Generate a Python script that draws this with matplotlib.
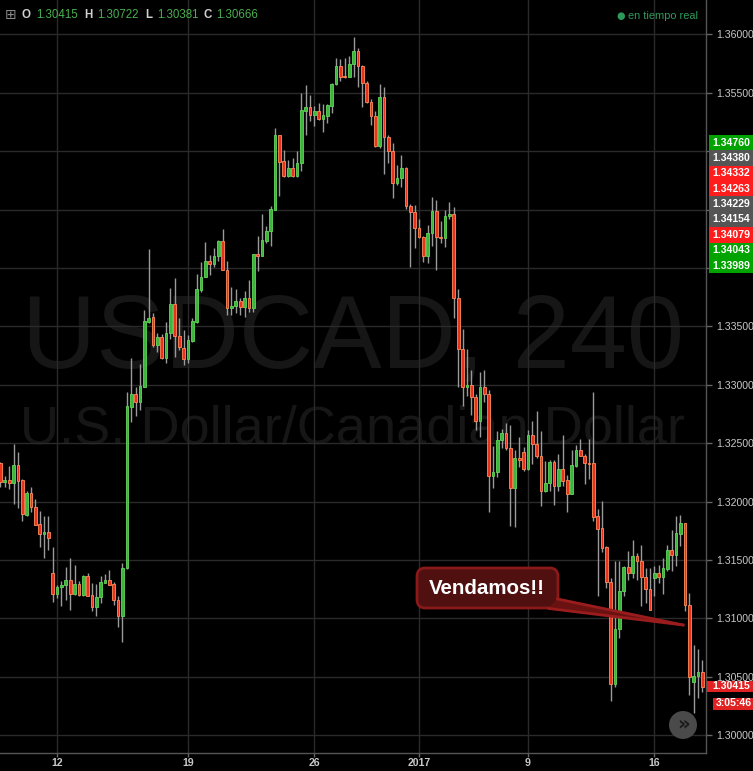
import matplotlib
matplotlib.use('Agg')
import matplotlib.pyplot as plt
from matplotlib.patches import Rectangle, FancyBboxPatch, Polygon, Ellipse
from matplotlib.lines import Line2D
import numpy as np

plt.rcParams['font.family'] = ['Liberation Sans', 'DejaVu Sans']

# ---------------- data (USDCAD, 4H candles) ----------------
opens = [1.32328, 1.32171, 1.32185, 1.32162, 1.32313, 1.32185, 1.31886, 1.32071, 1.31951, 1.31806,
         1.31721, 1.31738, 1.31387, 1.31208, 1.31268, 1.31282, 1.31330, 1.31208, 1.31296, 1.31202,
         1.31364, 1.31202, 1.31094, 1.31182, 1.31307, 1.31330, 1.31296, 1.31159, 1.31025, 1.31430,
         1.32814, 1.32920, 1.32849, 1.32985, 1.33541, 1.33578, 1.33342, 1.33407, 1.33233, 1.33441,
         1.33692, 1.33421, 1.33316, 1.33222, 1.33378, 1.33541, 1.33812, 1.33922, 1.34062, 1.34033,
         1.34104, 1.34233, 1.33985, 1.33657, 1.33671, 1.33720, 1.33663, 1.33743, 1.33657, 1.34119,
         1.34105, 1.34235, 1.34313, 1.34498, 1.35139, 1.34916, 1.34791, 1.34854, 1.34791, 1.34897,
         1.35347, 1.35376, 1.35310, 1.35344, 1.35276, 1.35304, 1.35387, 1.35572, 1.35729, 1.35644,
         1.35638, 1.35743, 1.35857, 1.35729, 1.35581, 1.35418, 1.35304, 1.35048, 1.35461, 1.35119,
         1.35005, 1.34726, 1.34768, 1.34854, 1.34532, 1.34478, 1.34341, 1.34264, 1.34099, 1.34298,
         1.34489, 1.34264, 1.34253, 1.34441, 1.34464, 1.33743, 1.33307, 1.32982, 1.33002, 1.32896,
         1.32688, 1.32982, 1.32922, 1.32218, 1.32255, 1.32526, 1.32588, 1.32460, 1.32118, 1.32374,
         1.32423, 1.32281, 1.32566, 1.32489, 1.32391, 1.32095, 1.32157, 1.32343, 1.32135, 1.32277,
         1.32186, 1.32066, 1.32308, 1.32442, 1.32394, 1.32334, 1.32328, 1.31878, 1.31773, 1.31610,
         1.31311, 1.30439, 1.30909, 1.31231, 1.31439, 1.31388, 1.31536, 1.31493, 1.31353, 1.31251,
         1.31345, 1.31388, 1.31351, 1.31425, 1.31587, 1.31539, 1.31724, 1.31815, 1.31111, 1.30456,
         1.30504, 1.30541]
highs = [1.32342, 1.32219, 1.32305, 1.32493, 1.32425, 1.32191, 1.32091, 1.32123, 1.32020, 1.31920,
         1.31877, 1.31877, 1.31610, 1.31288, 1.31322, 1.31436, 1.31518, 1.31459, 1.31322, 1.31373,
         1.31387, 1.31302, 1.31296, 1.31364, 1.31381, 1.31416, 1.31316, 1.31193, 1.31478, 1.32937,
         1.33228, 1.32985, 1.33179, 1.33641, 1.34162, 1.33612, 1.33447, 1.33436, 1.33535, 1.33826,
         1.33912, 1.33569, 1.33470, 1.33427, 1.33569, 1.33948, 1.34047, 1.34224, 1.34113, 1.34170,
         1.34241, 1.34333, 1.34062, 1.33837, 1.33820, 1.33743, 1.33800, 1.33894, 1.34122, 1.34270,
         1.34464, 1.34361, 1.34532, 1.35202, 1.35139, 1.35011, 1.34925, 1.34945, 1.35002, 1.35501,
         1.35567, 1.35481, 1.35387, 1.35410, 1.35404, 1.35404, 1.35587, 1.35797, 1.35786, 1.35794,
         1.35814, 1.35980, 1.35880, 1.35738, 1.35601, 1.35447, 1.35344, 1.35575, 1.35547, 1.35139,
         1.35068, 1.34883, 1.34968, 1.34868, 1.34549, 1.34541, 1.34418, 1.34276, 1.34370, 1.34606,
         1.34578, 1.34404, 1.34498, 1.34563, 1.34521, 1.33822, 1.33480, 1.33309, 1.33124, 1.32925,
         1.33107, 1.33124, 1.32959, 1.32474, 1.32608, 1.32625, 1.32674, 1.32660, 1.32440, 1.32554,
         1.32469, 1.32617, 1.32688, 1.32774, 1.32605, 1.32348, 1.32357, 1.32357, 1.32408, 1.32571,
         1.32228, 1.32442, 1.32485, 1.32533, 1.32408, 1.32533, 1.32935, 1.31935, 1.32008, 1.31622,
         1.31345, 1.31488, 1.31493, 1.31451, 1.31573, 1.31673, 1.31559, 1.31630, 1.31431, 1.31431,
         1.31445, 1.31459, 1.31516, 1.31630, 1.31753, 1.31878, 1.31887, 1.31820, 1.31217, 1.30775,
         1.30738, 1.30644]
lows = [1.32128, 1.32128, 1.32105, 1.31980, 1.31949, 1.31838, 1.31878, 1.31914, 1.31798, 1.31615,
        1.31521, 1.31587, 1.31137, 1.31174, 1.31108, 1.31159, 1.31074, 1.31202, 1.31188, 1.31196,
        1.31190, 1.31060, 1.31017, 1.31131, 1.31302, 1.31282, 1.31117, 1.30923, 1.30794, 1.31420,
        1.32678, 1.32735, 1.32786, 1.32985, 1.33532, 1.33322, 1.33285, 1.33219, 1.33185, 1.33390,
        1.33242, 1.33299, 1.33170, 1.33190, 1.33370, 1.33532, 1.33791, 1.33922, 1.33942, 1.34008,
        1.34056, 1.33979, 1.33600, 1.33600, 1.33614, 1.33594, 1.33580, 1.33620, 1.33620, 1.33970,
        1.34099, 1.34213, 1.34184, 1.34498, 1.34612, 1.34783, 1.34783, 1.34783, 1.34783, 1.34834,
        1.35139, 1.35262, 1.35216, 1.35267, 1.35168, 1.35244, 1.35330, 1.35567, 1.35604, 1.35624,
        1.35638, 1.35638, 1.35547, 1.35381, 1.35410, 1.35225, 1.35034, 1.35025, 1.34806, 1.34897,
        1.34598, 1.34712, 1.34692, 1.34504, 1.34005, 1.34170, 1.34256, 1.34050, 1.34042, 1.34184,
        1.33979, 1.34213, 1.34179, 1.34418, 1.33572, 1.32982, 1.32816, 1.32902, 1.32745, 1.32617,
        1.32554, 1.32851, 1.31910, 1.32118, 1.32212, 1.32460, 1.32440, 1.31790, 1.31785, 1.32298,
        1.32261, 1.32269, 1.32318, 1.32375, 1.31964, 1.32078, 1.32092, 1.31972, 1.32092, 1.32135,
        1.31915, 1.32066, 1.32300, 1.32391, 1.32152, 1.32194, 1.31830, 1.31188, 1.31565, 1.31260,
        1.30291, 1.30410, 1.30832, 1.31188, 1.31331, 1.31345, 1.31331, 1.31103, 1.31131, 1.31069,
        1.31188, 1.31302, 1.31206, 1.31402, 1.31402, 1.31445, 1.31624, 1.31060, 1.30348, 1.30188,
        1.30319, 1.30373]
closes = [1.32171, 1.32185, 1.32162, 1.32313, 1.32180, 1.31892, 1.32071, 1.31951, 1.31804, 1.31721,
          1.31738, 1.31686, 1.31208, 1.31268, 1.31288, 1.31330, 1.31208, 1.31296, 1.31202, 1.31364,
          1.31196, 1.31094, 1.31182, 1.31310, 1.31330, 1.31288, 1.31154, 1.31025, 1.31430, 1.32820,
          1.32920, 1.32849, 1.32991, 1.33547, 1.33575, 1.33342, 1.33407, 1.33233, 1.33441, 1.33692,
          1.33421, 1.33327, 1.33222, 1.33384, 1.33546, 1.33817, 1.33922, 1.34062, 1.34033, 1.34104,
          1.34233, 1.33985, 1.33657, 1.33677, 1.33720, 1.33663, 1.33743, 1.33657, 1.34119, 1.34105,
          1.34241, 1.34318, 1.34504, 1.35139, 1.34911, 1.34791, 1.34854, 1.34791, 1.34897, 1.35353,
          1.35376, 1.35310, 1.35344, 1.35276, 1.35310, 1.35396, 1.35575, 1.35729, 1.35638, 1.35635,
          1.35746, 1.35857, 1.35729, 1.35581, 1.35418, 1.35304, 1.35048, 1.35461, 1.35119, 1.35005,
          1.34726, 1.34768, 1.34854, 1.34532, 1.34478, 1.34341, 1.34264, 1.34099, 1.34298, 1.34489,
          1.34264, 1.34253, 1.34447, 1.34464, 1.33743, 1.33307, 1.32982, 1.33002, 1.32896, 1.32688,
          1.32982, 1.32922, 1.32218, 1.32255, 1.32531, 1.32588, 1.32460, 1.32118, 1.32374, 1.32354,
          1.32281, 1.32566, 1.32489, 1.32389, 1.32095, 1.32157, 1.32343, 1.32135, 1.32277, 1.32180,
          1.32066, 1.32314, 1.32442, 1.32394, 1.32328, 1.32323, 1.31872, 1.31767, 1.31607, 1.31308,
          1.30439, 1.30909, 1.31237, 1.31439, 1.31388, 1.31536, 1.31488, 1.31351, 1.31251, 1.31074,
          1.31388, 1.31351, 1.31431, 1.31587, 1.31539, 1.31730, 1.31815, 1.31111, 1.30500, 1.30510,
          1.30541, 1.30415]

date_tick_idx = [13, 43, 72, 96, 121, 150]
date_tick_labels = ['12', '19', '26', '2017', '9', '16']
price_ticks = [1.300, 1.305, 1.310, 1.315, 1.320, 1.325, 1.330,
               1.335, 1.340, 1.345, 1.350, 1.355, 1.360]
# price levels whose axis labels are covered by the stacked boxes
hidden_ticks = [1.340, 1.345, 1.350]

side_labels = ['1.34760', '1.34380', '1.34332', '1.34263', '1.34229',
               '1.34154', '1.34079', '1.34043', '1.33989']
side_colors = ['#00a300', '#555555', '#ff1c1c', '#ff1c1c', '#555555',
               '#555555', '#ff1c1c', '#00a300', '#00a300']

header_values = ['1.30415', '1.30722', '1.30381', '1.30666']
header_keys = ['O', 'H', 'L', 'C']
last_price_label = '1.30415'
countdown_label = '3:05:46'

# ---------------- figure ----------------
W, H = 753, 771
def fx(x):
    return x / W
def fy(y):
    return 1 - y / H

fig = plt.figure(figsize=(W / 100, H / 100), dpi=100, facecolor='black')
ax = fig.add_axes([0, fy(753), fx(706), 753 / H])
ax.set_facecolor('black')

n = len(opens)
xs = np.arange(n)
o = np.array(opens); h = np.array(highs); l = np.array(lows); c = np.array(closes)
up = c > o

ax.set_xlim(-0.1, 161.85)
ax.set_ylim(1.29848, 1.36294)

# watermark
ax.text(0.5, 0.547, 'USDCAD, 240', transform=ax.transAxes, ha='center', va='center',
        fontsize=74, color='#161616', zorder=0.2)
ax.text(0.5, 0.429, 'U.S. Dollar/Canadian Dollar', transform=ax.transAxes, ha='center',
        va='center', fontsize=39, color='#161616', zorder=0.2)

# grid
ax.set_yticks(price_ticks)
ax.set_yticklabels(['' if any(abs(p - q) < 1e-9 for q in hidden_ticks) else f'{p:.5f}'
                    for p in price_ticks])
ax.set_xticks(date_tick_idx)
ax.set_xticklabels(date_tick_labels)
ax.grid(True, color='#2a2a2a', lw=1, zorder=0.5)
ax.set_axisbelow(True)

# wicks
ax.vlines(xs, l, h, color='#9a9a9a', lw=1, zorder=2)
# bodies
body_bottom = np.minimum(o, c)
body_h = np.maximum(np.abs(c - o), 0.00005)
ax.bar(xs[up], body_h[up], bottom=body_bottom[up], width=0.62,
       color='#3db53d', edgecolor='#62d65a', linewidth=0.6, zorder=3)
ax.bar(xs[~up], body_h[~up], bottom=body_bottom[~up], width=0.62,
       color='#e8321e', edgecolor='#ff8c5a', linewidth=0.6, zorder=3)

# axes styling
ax.yaxis.tick_right()
for s in ['top', 'left']:
    ax.spines[s].set_visible(False)
for s in ['right', 'bottom']:
    ax.spines[s].set_color('#555555')
    ax.spines[s].set_linewidth(1)
ax.tick_params(axis='y', colors='#666666', labelcolor='#c8c8c8', length=4, width=1,
               labelsize=7.6, pad=3)
ax.tick_params(axis='x', colors='#666666', labelcolor='#c8c8c8', length=3, width=1,
               labelsize=7.6, pad=0.5)
for t in ax.get_xticklabels():
    t.set_fontweight('bold')

# header
fig.text(fx(5), fy(15), '⊞', color='#8a8a8a', fontsize=10, va='center', ha='left',
         family=['DejaVu Sans'])
key_x = [22, 84, 145, 204]
val_x = [36, 97, 157, 216]
for k, v, kx, vx in zip(header_keys, header_values, key_x, val_x):
    fig.text(fx(kx), fy(15), k, color='#d0d0d0', fontsize=8.3, fontweight='bold',
             va='center', ha='left')
    fig.text(fx(vx), fy(15), v, color='#49b04f', fontsize=8.3, va='center', ha='left')
fig.text(fx(616), fy(16), '●', color='#2e9a5a', fontsize=7, va='center', ha='left',
         family=['DejaVu Sans'])
fig.text(fx(628), fy(16), 'en tiempo real', color='#2e9a5a', fontsize=7.9,
         va='center', ha='left')

# stacked colored price labels on the right
for i, (lab, col) in enumerate(zip(side_labels, side_colors)):
    yc = 142.5 + 15.4 * i
    fig.add_artist(Rectangle((fx(709), fy(yc + 7.6)), fx(753) - fx(709), 15.2 / H,
                             transform=fig.transFigure, facecolor=col, edgecolor='none',
                             zorder=5))
    fig.text(fx(712.5), fy(yc), lab, color='white', fontsize=7.6, fontweight='bold',
             va='center', ha='left', zorder=6)

# last price & countdown
fig.add_artist(Rectangle((fx(707), fy(692)), fx(753) - fx(707), 11.5 / H,
                         transform=fig.transFigure, facecolor='#e02222', edgecolor='none',
                         zorder=5))
fig.text(fx(712.5), fy(686.3), last_price_label, color='white', fontsize=7.6,
         fontweight='bold', va='center', ha='left', zorder=6)
fig.add_artist(Rectangle((fx(713), fy(709.5)), fx(753) - fx(713), 12 / H,
                         transform=fig.transFigure, facecolor='#e02222', edgecolor='none',
                         zorder=5))
fig.text(fx(716), fy(703.5), countdown_label, color='white', fontsize=7.6,
         fontweight='bold', va='center', ha='left', zorder=6)

# callout "Vendamos!!"
box = FancyBboxPatch((fx(417), fy(608)), fx(558) - fx(417), 40 / H,
                     boxstyle='round,pad=0,rounding_size=0.011',
                     transform=fig.transFigure, facecolor='#501010', edgecolor='#8c1919',
                     linewidth=2, zorder=7)
fig.add_artist(box)
wedge = Polygon([(fx(549), fy(607.5)), (fx(557.5), fy(599)), (fx(683), fy(625))],
                closed=True, transform=fig.transFigure, facecolor='#6a1212',
                edgecolor='none', zorder=8)
fig.add_artist(wedge)
fig.add_artist(Line2D([fx(549), fx(683)], [fy(608.5), fy(625)], transform=fig.transFigure,
                      color='#9a1c1c', lw=2, zorder=9))
fig.add_artist(Line2D([fx(557.5), fx(683)], [fy(599), fy(625)], transform=fig.transFigure,
                      color='#9a1c1c', lw=2, zorder=9))
fig.text(fx(487), fy(588), 'Vendamos!!', color='white', fontsize=14.8, fontweight='bold',
         ha='center', va='center', zorder=10)

# scroll button
fig.add_artist(Ellipse((fx(683), fy(725)), 28 / W, 28 / H, transform=fig.transFigure,
                       facecolor='#4a4a4a', edgecolor='none', zorder=7))
fig.text(fx(683), fy(724), '»', color='#1a1a1a', fontsize=14, fontweight='bold',
         ha='center', va='center', zorder=8, family=['DejaVu Sans'])

fig.savefig('out.png', dpi=100, facecolor='black')
